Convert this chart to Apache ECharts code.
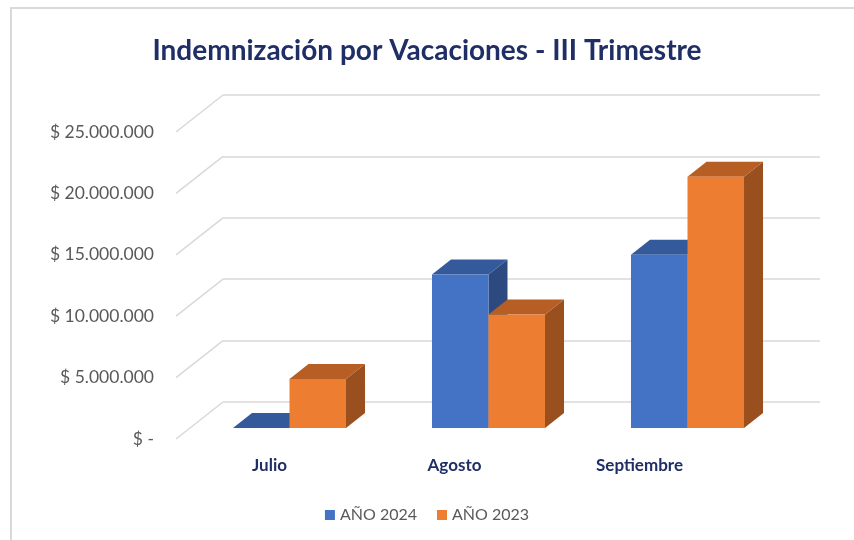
<!DOCTYPE html>
<html>
<head>
<meta charset="utf-8">
<script src="https://cdn.jsdelivr.net/npm/echarts@6/dist/echarts.min.js"></script>
<style>
  html, body { margin: 0; padding: 0; background: #fff; }
  #chart { width: 854px; height: 540px; }
</style>
</head>
<body>
<div id="chart"></div>
<script>
var months = ['Julio', 'Agosto', 'Septiembre'];
var seriesNames = ['AÑO 2024', 'AÑO 2023'];
var ano2024 = [0, 12500000, 14100000];
var ano2023 = [4000000, 9250000, 20450000];
var yTicks = [0, 5000000, 10000000, 15000000, 20000000, 25000000];

// front / top / side colours for each series
var faces = [
    ['#4472C4', '#345A9B', '#2C4A80'],
    ['#ED7D31', '#B65E23', '#9A501E']
];

// projection offsets (pixels): back wall -> bar front, bar depth, back wall -> floor front
var BAR_OFF = [-33, 26];
var DEPTH = [19, -15];
var WALL_OFF = [-47, 37];

function fmtMoney(v) {
    if (v == 0) return '$ -';
    return '$ ' + String(v).replace(/\B(?=(\d{3})+(?!\d))/g, '.');
}

function boxRenderer(si) {
    return function (params, api) {
        var cat = api.value(0);
        var val = api.value(1);
        var base = api.coord([cat, 0]);
        var top = api.coord([cat, val]);
        var band = api.size([1, 0])[0];
        var w = band * 0.284;
        var x0 = base[0] - w + si * w + BAR_OFF[0];
        var yb = base[1] + BAR_OFF[1];
        var yt = top[1] + BAR_OFF[1];
        var c = faces[si];
        return {
            type: 'group',
            children: [
                {
                    type: 'polygon',
                    shape: { points: [[x0 + w, yt], [x0 + w + DEPTH[0], yt + DEPTH[1]], [x0 + w + DEPTH[0], yb + DEPTH[1]], [x0 + w, yb]] },
                    style: { fill: c[2] }
                },
                {
                    type: 'polygon',
                    shape: { points: [[x0, yt], [x0 + w, yt], [x0 + w + DEPTH[0], yt + DEPTH[1]], [x0 + DEPTH[0], yt + DEPTH[1]]] },
                    style: { fill: c[1] }
                },
                {
                    type: 'rect',
                    shape: { x: x0, y: yt, width: w, height: yb - yt },
                    style: { fill: c[0] }
                }
            ]
        };
    };
}

function diagRenderer(params, api) {
    var p = api.coord([0, api.value(1)]);
    var band = api.size([1, 0])[0];
    var x = p[0] - band / 2;
    return {
        type: 'line',
        shape: { x1: x + WALL_OFF[0], y1: p[1] + WALL_OFF[1], x2: x, y2: p[1] },
        style: { stroke: '#D9D9D9', lineWidth: 1.5 }
    };
}

var chart = echarts.init(document.getElementById('chart'));
chart.setOption({
    backgroundColor: '#fff',
    animation: false,
    textStyle: { fontFamily: 'Lato' },
    title: {
        text: 'Indemnización por Vacaciones - III Trimestre',
        left: 'center',
        top: 32,
        textStyle: { fontFamily: 'Lato', fontSize: 28, fontWeight: 'bold', color: '#1F2F66' }
    },
    legend: {
        data: seriesNames,
        left: 'center',
        top: 502,
        icon: 'rect',
        itemWidth: 10,
        itemHeight: 10,
        itemGap: 20,
        textStyle: { fontSize: 16, color: '#595959' }
    },
    graphic: [{
        type: 'polyline',
        shape: { points: [[11, 540], [11, 8], [854, 8]] },
        style: { stroke: '#D9D9D9', lineWidth: 2, fill: null }
    }],
    grid: [
        // back wall
        { left: 223, right: 34, top: 95, bottom: 138 },
        // front edge of floor: value labels
        { left: 176, right: 81, top: 132, bottom: 101 },
        // category labels
        { left: 177, right: 122, top: 132, bottom: 101 }
    ],
    xAxis: [
        { type: 'category', gridIndex: 0, data: months, axisLine: { show: false }, axisTick: { show: false }, axisLabel: { show: false } },
        { type: 'category', gridIndex: 1, data: months, show: false },
        {
            type: 'category', gridIndex: 2, data: months,
            axisLine: { show: false }, axisTick: { show: false },
            axisLabel: { margin: 18, fontSize: 17, fontWeight: 'bold', color: '#1F2F66' }
        }
    ],
    yAxis: [
        {
            type: 'value', gridIndex: 0, min: 0, max: 25000000, interval: 5000000,
            axisLabel: { show: false },
            splitLine: { lineStyle: { color: '#D9D9D9', width: 1.5 } }
        },
        {
            type: 'value', gridIndex: 1, min: 0, max: 25000000, interval: 5000000,
            splitLine: { show: false },
            axisLabel: { margin: 22, fontSize: 17.5, color: '#595959', formatter: fmtMoney }
        },
        { type: 'value', gridIndex: 2, min: 0, max: 25000000, show: false }
    ],
    series: [
        {
            type: 'custom',
            silent: true,
            xAxisIndex: 0, yAxisIndex: 0,
            renderItem: diagRenderer,
            data: yTicks.map(function (v) { return [0, v]; }),
            z: 1
        },
        {
            name: seriesNames[0],
            type: 'custom',
            xAxisIndex: 0, yAxisIndex: 0,
            itemStyle: { color: faces[0][0] },
            renderItem: boxRenderer(0),
            data: ano2024.map(function (v, i) { return [i, v]; }),
            z: 2
        },
        {
            name: seriesNames[1],
            type: 'custom',
            xAxisIndex: 0, yAxisIndex: 0,
            itemStyle: { color: faces[1][0] },
            renderItem: boxRenderer(1),
            data: ano2023.map(function (v, i) { return [i, v]; }),
            z: 3
        }
    ]
});
</script>
</body>
</html>
